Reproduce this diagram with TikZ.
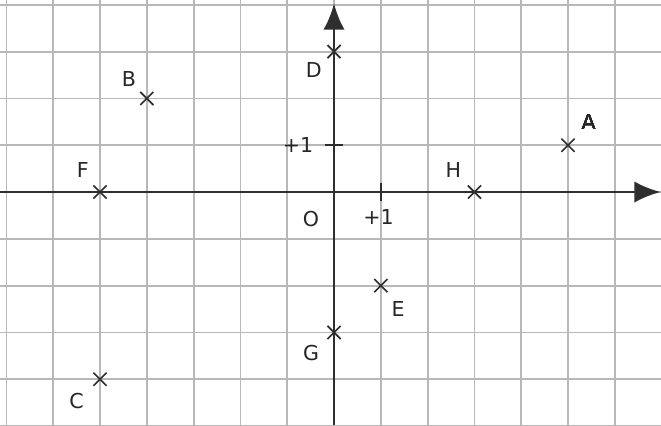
\documentclass[tikz,border=0pt]{standalone}
\usepackage{fontspec}
\setmainfont{DejaVu Sans}
\usetikzlibrary{arrows.meta,calc}
\definecolor{gridc}{HTML}{B8B8B8}
\definecolor{axisc}{HTML}{2E2E2E}
\tikzset{
  gridline/.style={draw=gridc, line width=1.1pt},
  axisline/.style={draw=axisc, line width=1.7pt, -{Latex[length=16pt,width=13pt]}},
  cross/.style={draw=axisc, line width=1pt},
  ptlabel/.style={font=\fontsize{12.5}{14}\selectfont, text=black!85, inner sep=1pt},
  tickline/.style={draw=axisc, line width=1pt}
}
\newcommand{\crossat}[2]{\draw[cross] (#1-0.14,#2-0.14) -- (#1+0.14,#2+0.14) (#1-0.14,#2+0.14) -- (#1+0.14,#2-0.14);}
\begin{document}
\begin{tikzpicture}
\useasboundingbox (-7.137,-4.979) rectangle (6.987,4.103);
\fill[white] (-7.137,-4.979) rectangle (6.987,4.103);
\begin{scope}
\clip (-7.137,-4.979) rectangle (6.987,4.103);
\foreach \x in {-7,...,7} \draw[gridline] (\x,-5.2) -- (\x,4.3);
\foreach \y in {-5,...,4} \draw[gridline] (-7.3,\y) -- (7.2,\y);
\end{scope}
\coordinate (xs) at (-7.137,0);
\coordinate (xe) at (6.98,0);
\coordinate (ys) at (0,-4.979);
\coordinate (ye) at (0,4.03);
\draw[axisline] (xs) -- (xe);
\draw[axisline] (ys) -- (ye);
\draw[tickline] (-0.2,1) -- (0.2,1);
\draw[tickline] (1,-0.2) -- (1,0.2);
\coordinate (A) at (5,1);
\coordinate (B) at (-4,2);
\coordinate (C) at (-5,-4);
\coordinate (D) at (0,3);
\coordinate (E) at (1,-2);
\coordinate (F) at (-5,0);
\coordinate (G) at (0,-3);
\coordinate (H) at (3,0);
\foreach \p/\x/\y in {A/5/1,B/-4/2,C/-5/-4,D/0/3,E/1/-2,F/-5/0,G/0/-3,H/3/0} \crossat{\x}{\y}
\node[ptlabel] (lA) at ($(A)+(0.44,0.5)$) {A};
\node[ptlabel] (lB) at ($(B)+(-0.38,0.42)$) {B};
\node[ptlabel] (lC) at ($(C)+(-0.5,-0.47)$) {C};
\node[ptlabel] (lD) at ($(D)+(-0.43,-0.4)$) {D};
\node[ptlabel] (lE) at ($(E)+(0.37,-0.5)$) {E};
\node[ptlabel] (lF) at ($(F)+(-0.37,0.46)$) {F};
\node[ptlabel] (lG) at ($(G)+(-0.49,-0.43)$) {G};
\node[ptlabel] (lH) at ($(H)+(-0.45,0.46)$) {H};
\node[ptlabel] (lO) at (-0.49,-0.58) {O};
\node[ptlabel] (l1y) at (-0.77,1) {+1};
\node[ptlabel] (l1x) at (0.95,-0.53) {+1};
\end{tikzpicture}
\end{document}
